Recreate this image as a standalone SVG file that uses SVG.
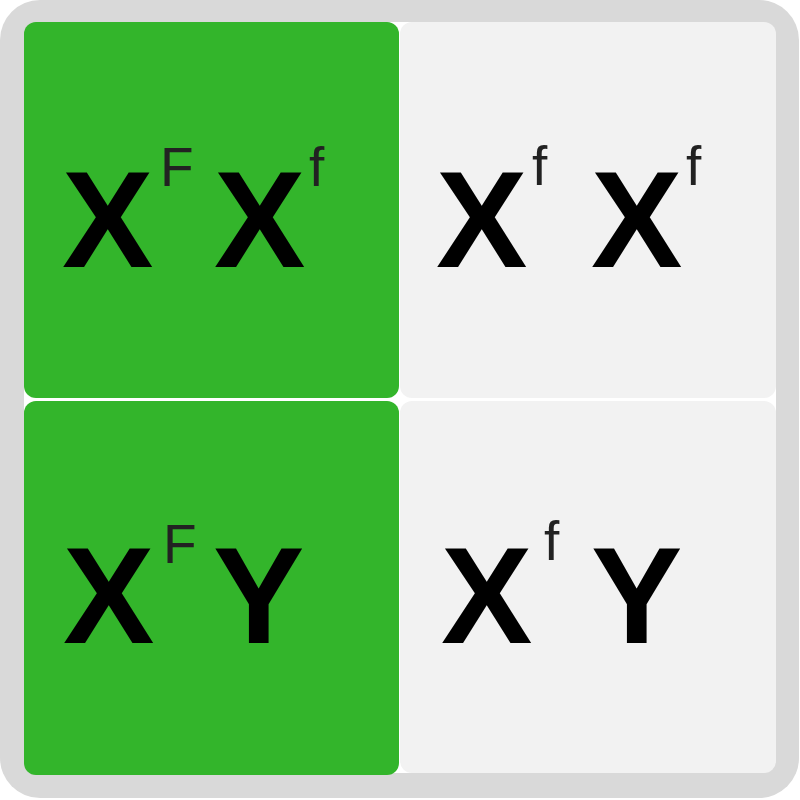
<svg xmlns="http://www.w3.org/2000/svg" width="800" height="800" viewBox="0 0 800 800">
<style>
.big{font-family:"Liberation Sans",Arial,sans-serif;font-weight:bold;font-size:137px;fill:#000}
.sup{font-family:"Liberation Sans",Arial,sans-serif;font-size:55px;fill:#222}
.g{fill:#33b52b}
.l{fill:#f2f2f2}
</style>
<rect x="0" y="0" width="799" height="798" rx="40" fill="#d9d9d9"/>
<rect x="24" y="380" width="752" height="40" fill="#ffffff"/>
<rect x="380" y="22" width="40" height="751" fill="#ffffff"/>
<g id="cell-XF-Xf">
<rect class="g" x="24" y="22" width="375" height="376" rx="12"/>
<text class="big" x="62" y="267">X</text>
<text class="sup" x="160" y="186">F</text>
<text class="big" x="214" y="267">X</text>
<text class="sup" x="309" y="186">f</text>
</g>
<g id="cell-Xf-Xf">
<rect class="l" x="400" y="22" width="376" height="376" rx="12"/>
<text class="big" x="436" y="267">X</text>
<text class="sup" x="532" y="185">f</text>
<text class="big" x="591" y="267">X</text>
<text class="sup" x="686" y="185">f</text>
</g>
<g id="cell-XF-Y">
<rect class="g" x="24" y="401" width="375" height="374" rx="12"/>
<text class="big" x="63" y="643">X</text>
<text class="sup" x="163" y="563">F</text>
<text class="big" x="213" y="643">Y</text>
</g>
<g id="cell-Xf-Y">
<rect class="l" x="400" y="401" width="376" height="372" rx="12"/>
<text class="big" x="441" y="643">X</text>
<text class="sup" x="544" y="560">f</text>
<text class="big" x="591" y="643">Y</text>
</g>
<g id="connectors"/>
</svg>
